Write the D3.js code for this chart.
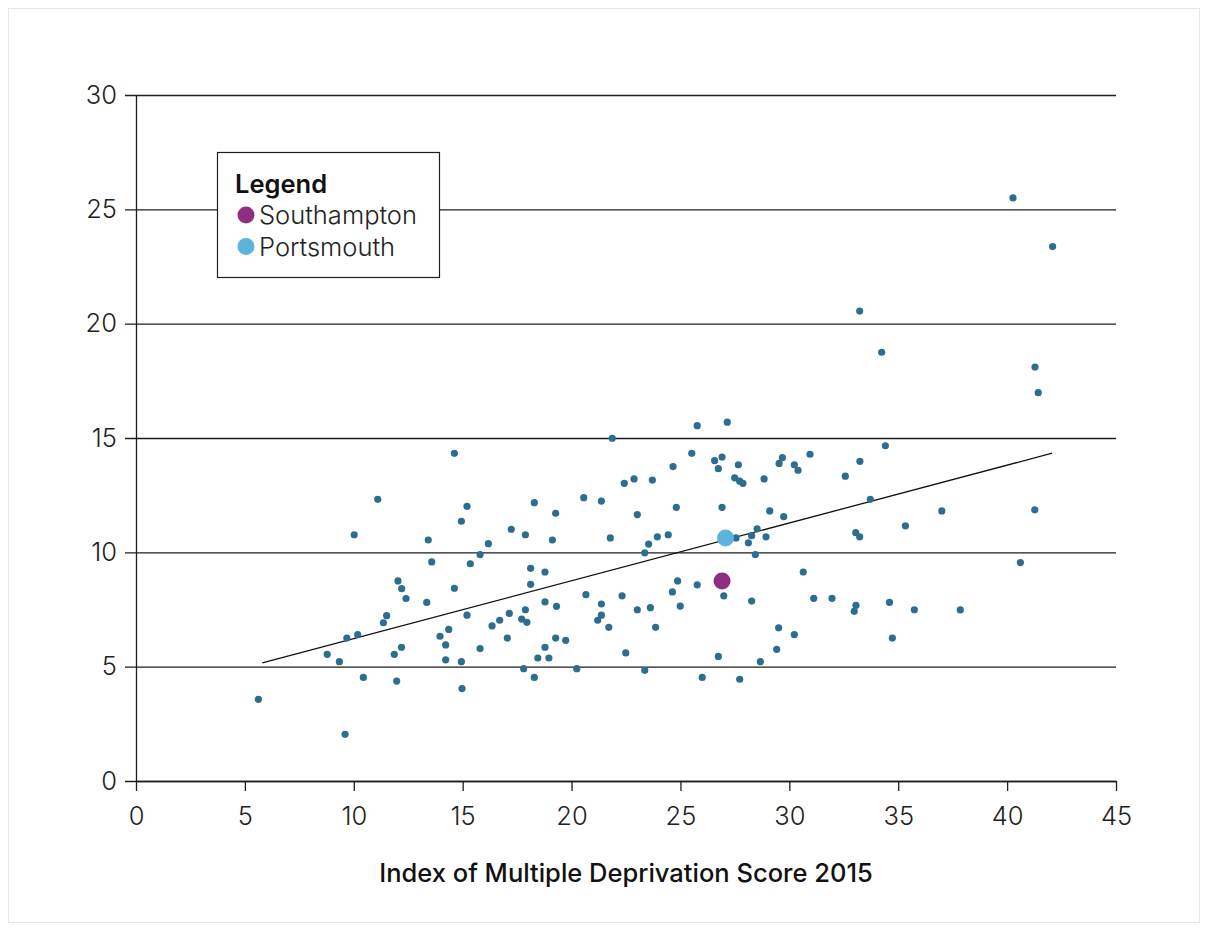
<!DOCTYPE html>
<html>
<head>
<meta charset="utf-8">
<script src="https://cdn.jsdelivr.net/npm/d3@7"></script>
<style>
  html, body { margin: 0; padding: 0; background: #fff; }
  svg { display: block; font-family: "Inter", "Roboto", sans-serif; }
</style>
</head>
<body>
<svg id="chart" width="1208" height="931"></svg>
<script>
// Local authority scores: IMD 2015 (x) against the plotted rate (y)
const imdScore = [
  5.62, 9.60, 8.78, 9.34, 9.68, 10.18, 10.44, 10.02, 11.10, 11.36,
  11.51, 12.03, 12.20, 12.40, 11.86, 11.97, 12.19, 13.42, 13.58, 13.35,
  13.96, 14.22, 14.36, 14.22, 14.62, 14.62, 14.94, 15.20, 15.35, 15.20,
  14.94, 14.97, 15.80, 16.18, 15.80, 16.35, 16.70, 17.05, 17.14, 17.23,
  17.71, 17.88, 17.80, 17.88, 17.95, 18.12, 18.12, 18.29, 18.29, 18.45,
  18.78, 18.78, 18.78, 18.96, 19.12, 19.27, 19.31, 19.27, 19.73, 20.24,
  20.56, 20.66, 21.37, 21.37, 21.20, 21.37, 21.71, 21.78, 21.87, 22.32,
  22.42, 22.49, 22.87, 23.02, 23.02, 23.36, 23.36, 23.54, 23.62, 23.71,
  23.94, 23.86, 24.44, 24.66, 24.63, 24.81, 24.87, 24.99, 25.52, 25.77,
  25.77, 26.00, 26.57, 26.74, 26.91, 26.91, 26.74, 26.99, 27.15, 27.49,
  27.66, 27.72, 27.87, 27.55, 27.72, 28.27, 28.12, 28.27, 28.44, 28.52,
  28.67, 28.84, 28.93, 29.10, 29.53, 29.68, 29.74, 29.51, 29.42, 30.23,
  30.40, 30.23, 30.64, 30.95, 31.12, 31.96, 32.57, 33.05, 33.23, 33.24,
  33.06, 32.98, 33.23, 33.72, 34.24, 34.41, 34.60, 34.73, 35.33, 35.74,
  37.00, 37.85, 40.27, 40.61, 41.28, 41.43, 41.27, 42.09
];
const rate = [
  3.57, 2.04, 5.54, 5.22, 6.25, 6.40, 4.53, 10.77, 12.32, 6.92,
  7.23, 8.75, 8.41, 7.98, 5.54, 4.37, 5.85, 10.54, 9.58, 7.81,
  6.33, 5.95, 6.63, 5.30, 14.33, 8.43, 11.36, 12.01, 9.50, 7.25,
  5.22, 4.04, 9.90, 10.38, 5.79, 6.78, 7.03, 6.25, 7.33, 11.01,
  7.08, 7.49, 4.91, 10.77, 6.94, 9.30, 8.60, 12.17, 4.53, 5.38,
  7.83, 9.14, 5.85, 5.38, 10.54, 11.71, 7.64, 6.25, 6.15, 4.91,
  12.39, 8.15, 12.24, 7.74, 7.03, 7.25, 6.72, 10.63, 14.99, 8.10,
  13.02, 5.60, 13.21, 11.65, 7.49, 9.98, 4.84, 10.36, 7.58, 13.16,
  10.68, 6.72, 10.77, 13.75, 8.27, 11.97, 8.75, 7.65, 14.33, 15.54,
  8.58, 4.53, 14.01, 13.66, 14.17, 11.97, 5.45, 8.10, 15.69, 13.26,
  13.83, 13.11, 13.02, 10.63, 4.45, 10.73, 10.42, 7.87, 9.90, 11.03,
  5.22, 13.21, 10.68, 11.81, 13.89, 14.14, 11.56, 6.70, 5.76, 13.83,
  13.59, 6.40, 9.14, 14.29, 7.99, 7.99, 13.33, 10.86, 10.68, 13.98,
  7.68, 7.42, 20.55, 12.32, 18.75, 14.66, 7.81, 6.25, 11.16, 7.49,
  11.81, 7.48, 25.50, 9.55, 18.10, 16.98, 11.86, 23.37
];

// Highlighted authorities
const highlightNames = ["Southampton", "Portsmouth"];
const highlightScore = [26.91, 27.07];
const highlightRate = [8.75, 10.63];
const highlightColors = ["#8e2f80", "#5cb3dc"];

// Linear trend line: rate = slope * score + intercept
const trendSlope = 0.2528;
const trendIntercept = 3.70;
const trendRange = [5.8, 42.07];

const xTicks = [0, 5, 10, 15, 20, 25, 30, 35, 40, 45];
const yTicks = [0, 5, 10, 15, 20, 25, 30];
const xTitle = "Index of Multiple Deprivation Score 2015";
const legendTitle = "Legend";

const svg = d3.select("#chart");
const ink = "#1e1e1e";
const labelSize = 25.5;

// Outer frame
svg.append("rect")
  .attr("x", 8.5).attr("y", 8.5)
  .attr("width", 1191).attr("height", 914)
  .attr("fill", "#fff")
  .attr("stroke", "#e8e8e8").attr("stroke-width", 1);

const x = d3.scaleLinear().domain([0, 45]).range([136, 1116]);
const y = d3.scaleLinear().domain([0, 30]).range([781, 95]);

// Y axis with full-width gridlines
const yAxis = svg.append("g")
  .attr("transform", `translate(${x(0)},0)`)
  .call(d3.axisLeft(y).tickValues(yTicks)
    .tickSize(-(x(45) - x(0))).tickSizeOuter(0));
yAxis.select(".domain").attr("stroke", ink).attr("stroke-width", 1.3);
yAxis.selectAll(".tick line")
  .attr("x1", -11)
  .attr("stroke", ink).attr("stroke-width", 1.3);
yAxis.selectAll(".tick text")
  .attr("x", -19)
  .attr("fill", "#222").attr("font-size", labelSize).attr("font-weight", 300)
  .attr("font-family", "Inter, Roboto, sans-serif");

// X axis
const xAxis = svg.append("g")
  .attr("transform", `translate(0,${y(0)})`)
  .call(d3.axisBottom(x).tickValues(xTicks).tickSize(10).tickSizeOuter(0).tickPadding(16));
xAxis.select(".domain").attr("stroke", ink).attr("stroke-width", 1.3);
xAxis.selectAll(".tick line").attr("stroke", ink).attr("stroke-width", 1.3);
xAxis.selectAll(".tick text")
  .attr("fill", "#222").attr("font-size", labelSize).attr("font-weight", 300)
  .attr("font-family", "Inter, Roboto, sans-serif");

// Axis title
svg.append("text")
  .attr("x", 626)
  .attr("y", 882)
  .attr("text-anchor", "middle")
  .attr("fill", "#111").attr("font-size", labelSize).attr("font-weight", 500)
  .text(xTitle);

// Trend line
svg.append("line")
  .attr("x1", x(trendRange[0])).attr("y1", y(trendSlope * trendRange[0] + trendIntercept))
  .attr("x2", x(trendRange[1])).attr("y2", y(trendSlope * trendRange[1] + trendIntercept))
  .attr("stroke", "#111").attr("stroke-width", 1.3);

// All authorities
svg.append("g").selectAll("circle")
  .data(d3.range(imdScore.length))
  .join("circle")
  .attr("cx", i => x(imdScore[i]))
  .attr("cy", i => y(rate[i]))
  .attr("r", 3.6)
  .attr("fill", "#2d6e8e");

// Highlighted authorities on top
svg.append("g").selectAll("circle")
  .data(d3.range(highlightNames.length))
  .join("circle")
  .attr("cx", i => x(highlightScore[i]))
  .attr("cy", i => y(highlightRate[i]))
  .attr("r", 8.5)
  .attr("fill", i => highlightColors[i]);

// Legend
const legend = svg.append("g");
legend.append("rect")
  .attr("x", 217.5).attr("y", 152.5)
  .attr("width", 222).attr("height", 125)
  .attr("fill", "#fff").attr("stroke", ink).attr("stroke-width", 1.2);
legend.append("text")
  .attr("x", 235).attr("y", 193)
  .attr("fill", "#111").attr("font-size", labelSize).attr("font-weight", 600)
  .text(legendTitle);
highlightNames.forEach((name, i) => {
  const cy = 215 + i * 31.5;
  legend.append("circle")
    .attr("cx", 246).attr("cy", cy).attr("r", 8.5)
    .attr("fill", highlightColors[i]);
  legend.append("text")
    .attr("x", 259).attr("y", cy + 9)
    .attr("fill", "#222").attr("font-size", labelSize).attr("font-weight", 300)
    .text(name);
});
</script>
</body>
</html>
